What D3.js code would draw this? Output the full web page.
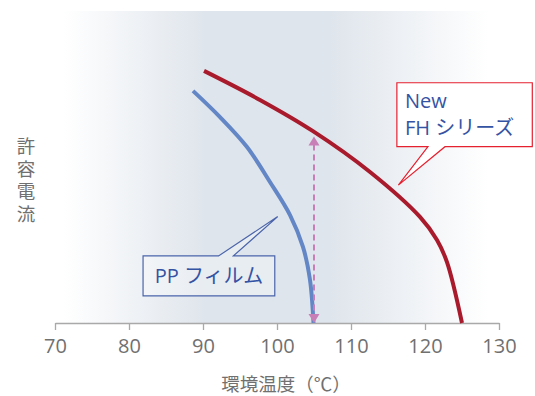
<!DOCTYPE html>
<html>
<head>
<meta charset="utf-8">
<script src="https://cdn.jsdelivr.net/npm/d3@7"></script>
<style>
body { margin: 0; background: #fff; }
svg { display: block; }
text { font-family: "Open Sans", "Noto Sans CJK JP", sans-serif; }
</style>
</head>
<body>
<svg id="chart" width="535" height="396"></svg>
<script>
// x axis ticks (環境温度 ℃)
var tickValues = [70, 80, 90, 100, 110, 120, 130];

// PP film curve: temperature / relative allowable current
var ppTemp    = [88.65, 92.3, 95.95, 99.05, 101.76, 103.51, 104.46, 104.93];
var ppCurrent = [74.4, 66.0, 56.4, 45.2, 34.6, 24.4, 13.8, 0];

// New FH series curve
var fhTemp    = [90.14, 97.7, 104.86, 112.57, 119.32, 121.62, 122.97, 125.0];
var fhCurrent = [80.8, 71.5, 61.5, 48.4, 34.0, 26.6, 19.5, 0];

// arrow at 105 ℃ between the two curves
var arrowTemp = 105;
var arrowFrom = 0;
var arrowTo = 59.8;

var svg = d3.select("#chart");

var x = d3.scaleLinear().domain([70, 130]).range([55, 499]);
var y = d3.scaleLinear().domain([0, 100]).range([323, 11]);

// background gradient
var defs = svg.append("defs");
var grad = defs.append("linearGradient").attr("id", "bg")
    .attr("x1", "0%").attr("x2", "100%").attr("y1", "0%").attr("y2", "0%");
grad.append("stop").attr("offset", "0.02").attr("stop-color", "#dfe5ec").attr("stop-opacity", 0);
grad.append("stop").attr("offset", "0.34").attr("stop-color", "#dfe5ec").attr("stop-opacity", 1);
grad.append("stop").attr("offset", "0.62").attr("stop-color", "#dfe5ec").attr("stop-opacity", 1);
grad.append("stop").attr("offset", "0.975").attr("stop-color", "#dfe5ec").attr("stop-opacity", 0);

svg.append("rect")
    .attr("x", x(70)).attr("y", y(100))
    .attr("width", x(130) - x(70)).attr("height", y(0) - y(100))
    .attr("fill", "url(#bg)");

// x axis
var axis = svg.append("g").attr("transform", "translate(0," + y(0) + ")")
    .call(d3.axisBottom(x).tickValues(tickValues).tickSize(7).tickSizeOuter(0).tickPadding(9));
axis.select(".domain").attr("stroke", "#a9a9a9").attr("stroke-width", 1.3);
axis.selectAll(".tick line").attr("stroke", "#a9a9a9").attr("stroke-width", 1.3);
axis.selectAll(".tick text")
    .attr("fill", "#707070")
    .style("font-size", "20px")
    .style("font-family", "'Open Sans', sans-serif");

svg.append("text")
    .attr("x", 286).attr("y", 391)
    .attr("text-anchor", "middle")
    .attr("fill", "#707070")
    .style("font-size", "18.5px")
    .style("font-family", "'Noto Sans CJK JP', sans-serif")
    .text("環境温度（℃）");

// y label, vertical
svg.append("text")
    .attr("x", 26).attr("y", 137)
    .attr("fill", "#707070")
    .style("writing-mode", "vertical-rl")
    .style("letter-spacing", "4px")
    .style("font-size", "18.5px")
    .style("font-family", "'Noto Sans CJK JP', sans-serif")
    .text("許容電流");

// curves
var line = d3.line()
    .x(function(d) { return x(d[0]); })
    .y(function(d) { return y(d[1]); })
    .curve(d3.curveCatmullRom.alpha(0.5));

svg.append("path")
    .datum(d3.zip(ppTemp, ppCurrent))
    .attr("d", line)
    .attr("fill", "none")
    .attr("stroke", "#6386c6")
    .attr("stroke-width", 4);

svg.append("path")
    .datum(d3.zip(fhTemp, fhCurrent))
    .attr("d", line)
    .attr("fill", "none")
    .attr("stroke", "#a81a2c")
    .attr("stroke-width", 4);

// dashed double arrow
var ax = x(arrowTemp);
var aTop = y(arrowTo), aBot = y(arrowFrom);
svg.append("line")
    .attr("x1", ax).attr("x2", ax)
    .attr("y1", aTop + 8).attr("y2", aBot - 8)
    .attr("stroke", "#c87fb7")
    .attr("stroke-width", 2)
    .attr("stroke-dasharray", "6,4");
svg.append("path")
    .attr("d", "M" + ax + "," + aTop + "L" + (ax - 5.5) + "," + (aTop + 9) + "L" + (ax + 5.5) + "," + (aTop + 9) + "Z")
    .attr("fill", "#c87fb7");
svg.append("path")
    .attr("d", "M" + ax + "," + aBot + "L" + (ax - 5.5) + "," + (aBot - 9) + "L" + (ax + 5.5) + "," + (aBot - 9) + "Z")
    .attr("fill", "#c87fb7");

// callouts
function callout(box, base, tip, below) {
    var l = x(box[0]), r = x(box[1]), t = y(box[2]), b = y(box[3]);
    var p;
    if (below) {
        p = [[l, t], [r, t], [r, b], [x(base[1]), b], [x(tip[0]), y(tip[1])], [x(base[0]), b], [l, b]];
    } else {
        p = [[l, t], [x(base[0]), t], [x(tip[0]), y(tip[1])], [x(base[1]), t], [r, t], [r, b], [l, b]];
    }
    return "M" + p.map(function(d) { return d.join(","); }).join("L") + "Z";
}

svg.append("path")
    .attr("d", callout([81.9, 99.7, 21.5, 8.7], [92.1, 94.1], [100.1, 34.1], false))
    .attr("fill", "#ffffff").attr("fill-opacity", 0.3)
    .attr("stroke", "#4a64aa").attr("stroke-width", 1.2);

svg.append("text")
    .attr("x", 209).attr("y", 283)
    .attr("text-anchor", "middle")
    .attr("fill", "#3553a3")
    .style("font-size", "20px")
    .text("PP フィルム");

svg.append("path")
    .attr("d", callout([116.2, 134.5, 77, 56.5], [120.4, 122.7], [116.4, 44.2], true))
    .attr("fill", "#ffffff")
    .attr("stroke", "#e5202f").attr("stroke-width", 1.2);

var fh = svg.append("text")
    .attr("fill", "#3553a3")
    .style("font-size", "20px");
fh.append("tspan").attr("x", 405).attr("y", 108).text("New");
fh.append("tspan").attr("x", 405).attr("y", 135).text("FH シリーズ");
</script>
</body>
</html>
